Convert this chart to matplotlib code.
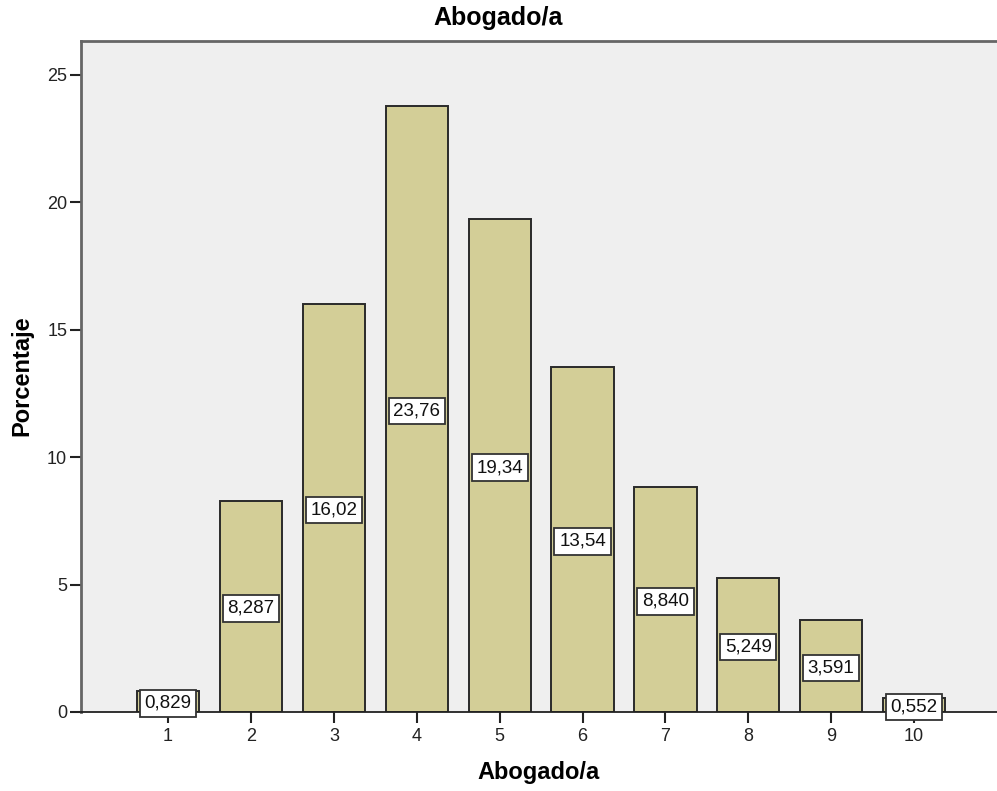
import matplotlib
matplotlib.use('Agg')
import numpy as np
from matplotlib import pyplot as plt

plt.rcParams['font.family'] = ['Liberation Sans', 'DejaVu Sans']

# data
categories = [1, 2, 3, 4, 5, 6, 7, 8, 9, 10]
values = [0.829, 8.287, 16.02, 23.76, 19.34, 13.54, 8.840, 5.249, 3.591, 0.552]
labels = ['0,829', '8,287', '16,02', '23,76', '19,34', '13,54', '8,840', '5,249', '3,591', '0,552']
yticks = [0, 5, 10, 15, 20, 25]

fig = plt.figure(figsize=(9.97, 7.91), dpi=100)
ax = fig.add_axes([0.0813, 0.0999, 0.9187, 0.8483])
ax.set_facecolor('#efefef')

ax.bar(categories, values, width=0.75, color='#d3ce97', edgecolor='#2a2a2a', linewidth=1.4, zorder=2)

for x, v, lab in zip(categories, values, labels):
    ax.text(x, v / 2, lab, ha='center', va='center_baseline', fontsize=13.5, color='#111111', zorder=3,
            bbox=dict(boxstyle='square,pad=0.25', facecolor='white', edgecolor='#333333', linewidth=1.3))

ax.set_xlim(-0.05, 11.0)
ax.set_ylim(0, 26.33)
ax.set_xticks(categories)
ax.set_yticks(yticks)
ax.tick_params(axis='both', labelsize=13, length=8, width=1.5, color='#222222', direction='out',
               labelcolor='#222222')
ax.tick_params(axis='y', pad=2)

for s in ['left', 'top']:
    ax.spines[s].set_color('#666666')
    ax.spines[s].set_linewidth(2)
ax.spines['right'].set_visible(False)
ax.spines['bottom'].set_color('#222222')
ax.spines['bottom'].set_linewidth(1.3)

fig.text(0.5, 1 - 18 / 791, 'Abogado/a', ha='center', va='center', fontsize=18, fontweight='bold')
fig.text(0.54, 1 - 772 / 791, 'Abogado/a', ha='center', va='center', fontsize=17, fontweight='bold')
fig.text(22 / 997, 1 - 376 / 791, 'Porcentaje', ha='center', va='center', rotation=90, fontsize=17, fontweight='bold')

plt.savefig('out.png', dpi=100)
